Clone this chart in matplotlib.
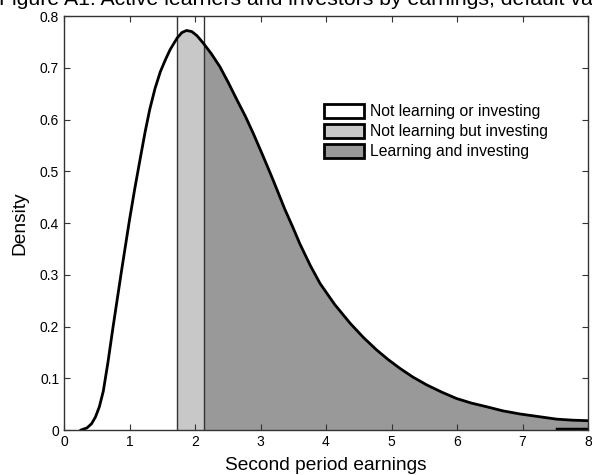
import matplotlib
matplotlib.use("Agg")
import matplotlib.pyplot as plt
from matplotlib.patches import Patch
import numpy as np

plt.rcParams['font.family'] = ['Liberation Sans', 'DejaVu Sans']

# Density curve
earnings = [0.26, 0.35, 0.42, 0.48, 0.54, 0.60, 0.67, 0.75, 0.88, 1.0, 1.08, 1.16, 1.24, 1.31,
            1.39, 1.47, 1.55, 1.62, 1.73, 1.80, 1.87, 1.95, 2.03, 2.13, 2.25, 2.38, 2.51,
            2.64, 2.77, 2.89, 3.02, 3.15, 3.25, 3.37, 3.5, 3.6, 3.76, 3.91, 4.13, 4.37,
            4.57, 4.77, 4.95, 5.13, 5.33, 5.54, 5.77, 5.99, 6.22, 6.45, 6.7, 6.96, 7.24,
            7.52, 7.76, 8.0]
density = [0.0, 0.004, 0.012, 0.025, 0.045, 0.075, 0.13, 0.2, 0.309, 0.406, 0.466, 0.522,
           0.577, 0.62, 0.66, 0.692, 0.716, 0.735, 0.758, 0.768, 0.772, 0.770, 0.762, 0.747,
           0.727, 0.702, 0.671, 0.638, 0.606, 0.573, 0.535, 0.496, 0.465, 0.427, 0.39, 0.36,
           0.318, 0.283, 0.243, 0.206, 0.179, 0.155, 0.136, 0.119, 0.102, 0.087, 0.073, 0.061,
           0.052, 0.045, 0.037, 0.031, 0.026, 0.021, 0.019, 0.018]

cut_low = 1.73   # start of "not learning but investing"
cut_high = 2.13  # start of "learning and investing"

labels = ["Not learning or investing", "Not learning but investing", "Learning and investing"]
colors = ["#ffffff", "#c8c8c8", "#999999"]

x = np.array(earnings)
y = np.array(density)

fig = plt.figure(figsize=(5.92, 4.75), dpi=100)
ax = fig.add_axes([64/592, 45/475, 524/592, 414/475])

ax.fill_between(x, 0, y, where=(x <= cut_low), color=colors[0], lw=0)
ax.fill_between(x, 0, y, where=(x >= cut_low) & (x <= cut_high), color=colors[1], lw=0)
ax.fill_between(x, 0, y, where=(x >= cut_high), color=colors[2], lw=0)
ax.axvline(cut_low, color="#333333", lw=1.0)
ax.axvline(cut_high, color="#333333", lw=1.0)
ax.plot(x, y, color="black", lw=2.0, solid_joinstyle='round')
ax.plot([7.52, 8.0], [0.002, 0.002], color="black", lw=2.5)

ax.set_xlim(0, 8)
ax.set_ylim(0, 0.8)
ax.set_xticks(range(0, 9))
ax.set_yticks([0, 0.1, 0.2, 0.3, 0.4, 0.5, 0.6, 0.7, 0.8])
ax.set_yticklabels(["0", "0.1", "0.2", "0.3", "0.4", "0.5", "0.6", "0.7", "0.8"])
ax.tick_params(direction='in', top=True, right=True, labelsize=10, length=4, width=0.8,
               colors='#333333', labelcolor='black')
for s in ax.spines.values():
    s.set_color('#333333')
    s.set_linewidth(1.0)

ax.set_xlabel("Second period earnings", fontsize=13.8, labelpad=6)
ax.set_ylabel("Density", fontsize=13.8, labelpad=8)

handles = [Patch(facecolor=c, edgecolor='black', linewidth=2) for c in colors]
ax.legend(handles, labels, loc='upper left', bbox_to_anchor=(0.476, 0.815), frameon=False,
          fontsize=11.3, handlelength=2.55, handleheight=1.0, labelspacing=0.3,
          handletextpad=0.35, borderpad=0.2)

fig.text(-0.002, 1 - 5/475, "Figure A1: Active learners and investors by earnings, default values",
         fontsize=15.3, ha='left', va='baseline')

fig.savefig("out.png", dpi=100)
